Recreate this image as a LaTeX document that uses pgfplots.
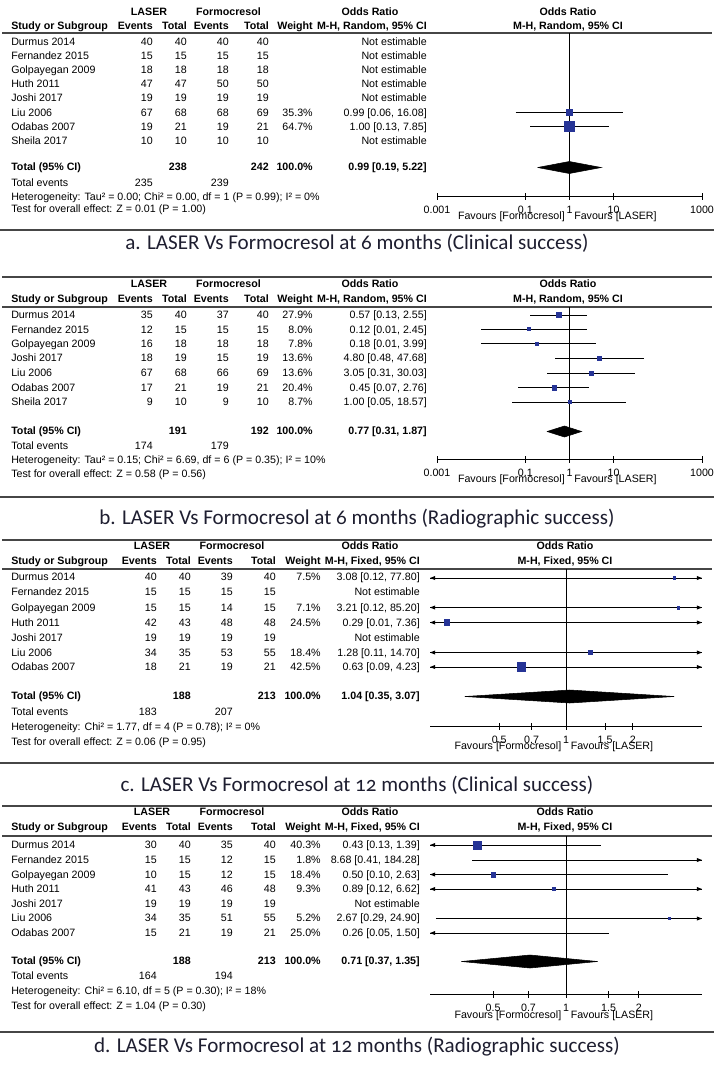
\documentclass[border=0pt]{standalone}
\usepackage{pgfplots}
\pgfplotsset{compat=1.18}
\usepackage{fontspec}
\setmainfont{Liberation Sans}
\newfontfamily\capfont{Carlito}[Numbers=OldStyle]
\definecolor{sqblue}{RGB}{38,52,150}
\definecolor{rulegray}{RGB}{70,70,70}
\definecolor{capcol}{RGB}{30,30,48}

% arrowheads for confidence intervals that run off the scale (tip at the mark point)
\pgfdeclareplotmark{tipL}{%
  \pgfpathmoveto{\pgfqpoint{0pt}{0pt}}%
  \pgfpathlineto{\pgfqpoint{2\pgfplotmarksize}{0.8\pgfplotmarksize}}%
  \pgfpathlineto{\pgfqpoint{2\pgfplotmarksize}{-0.8\pgfplotmarksize}}%
  \pgfpathclose\pgfusepathqfill}
\pgfdeclareplotmark{tipR}{%
  \pgfpathmoveto{\pgfqpoint{0pt}{0pt}}%
  \pgfpathlineto{\pgfqpoint{-2\pgfplotmarksize}{0.8\pgfplotmarksize}}%
  \pgfpathlineto{\pgfqpoint{-2\pgfplotmarksize}{-0.8\pgfplotmarksize}}%
  \pgfpathclose\pgfusepathqfill}

\tikzset{
  tx/.style={inner sep=0pt, font=\fontsize{8}{9}\selectfont, yshift=0.7pt},
  bx/.style={inner sep=0pt, font=\fontsize{8}{9}\selectfont\bfseries, yshift=0.7pt},
  hrule/.style={rulegray, line width=1.1pt},
  captxt/.style={inner sep=0pt, font=\capfont\fontsize{15.8}{18}\selectfont, text=capcol},
}

\newcommand{\colsAB}{\def\cxE{153}\def\cxT{187}\def\cxFE{229}\def\cxFT{269}\def\cxW{313}\def\cxOR{427}\def\cxL{149}\def\cxF{228.5}\def\cxO{370}}
\newcommand{\colsCD}{\def\cxE{157}\def\cxT{191}\def\cxFE{233}\def\cxFT{276}\def\cxW{321}\def\cxOR{420}\def\cxL{152}\def\cxF{232}\def\cxO{370}}

\newcommand{\hdr}[5]{%
  \node[bx,anchor=mid] at (\cxL,-#1) {LASER};
  \node[bx,anchor=mid] at (\cxF,-#1) {Formocresol};
  \node[bx,anchor=mid] at (\cxO,-#1) {Odds Ratio};
  \node[bx,anchor=mid] at (#5,-#1) {Odds Ratio};
  \node[bx,anchor=mid west] at (11,-#2) {Study or Subgroup};
  \node[bx,anchor=mid east] at (\cxE,-#2) {Events};
  \node[bx,anchor=mid east] at (\cxT,-#2) {Total};
  \node[bx,anchor=mid east] at (\cxFE,-#2) {Events};
  \node[bx,anchor=mid east] at (\cxFT,-#2) {Total};
  \node[bx,anchor=mid east] at (\cxW,-#2) {Weight};
  \node[bx,anchor=mid east] at (\cxOR,-#2) {#4};
  \node[bx,anchor=mid] at (#5,-#2) {#4};
  \draw[hrule] (2,-#3) -- (712,-#3);
}
\newcommand{\trow}[8]{%
  \node[tx,anchor=mid west] at (11,-#1) {#2};
  \node[tx,anchor=mid east] at (\cxE,-#1) {#3};
  \node[tx,anchor=mid east] at (\cxT,-#1) {#4};
  \node[tx,anchor=mid east] at (\cxFE,-#1) {#5};
  \node[tx,anchor=mid east] at (\cxFT,-#1) {#6};
  \node[tx,anchor=mid east] at (\cxW,-#1) {#7};
  \node[tx,anchor=mid east] at (\cxOR,-#1) {#8};
}
\newcommand{\totrow}[4]{%
  \node[bx,anchor=mid west] at (11,-#1) {Total (95\% CI)};
  \node[bx,anchor=mid east] at (\cxT,-#1) {#2};
  \node[bx,anchor=mid east] at (\cxFT,-#1) {#3};
  \node[bx,anchor=mid east] at (\cxW,-#1) {100.0\%};
  \node[bx,anchor=mid east] at (\cxOR,-#1) {#4};
}
\newcommand{\evrow}[3]{%
  \node[tx,anchor=mid west] at (11,-#1) {Total events};
  \node[tx,anchor=mid east] at (\cxE,-#1) {#2};
  \node[tx,anchor=mid east] at (\cxFE,-#1) {#3};
}
\newcommand{\fnote}[2]{\node[tx,anchor=mid west] at (11,-#1) {#2};}
\newcommand{\fav}[3]{%
  \node[tx,anchor=mid east] at (#1-4.5,-#2) {Favours [Formocresol]};
  \node[tx,anchor=mid west] at (#1+4.5,-#2) {Favours [#3]};
}

\begin{document}
\begin{tikzpicture}[x=0.75pt,y=0.75pt]
\useasboundingbox (0,0) rectangle (714,-1065);
\fill[white] (0,0) rectangle (714,-1065);

% ================= Panel a =================
\colsAB
\hdr{13}{27}{33}{M-H, Random, 95\% CI}{568}
\trow{43}{Durmus 2014}{40}{40}{40}{40}{}{Not estimable}
\trow{57}{Fernandez 2015}{15}{15}{15}{15}{}{Not estimable}
\trow{71}{Golpayegan 2009}{18}{18}{18}{18}{}{Not estimable}
\trow{85}{Huth 2011}{47}{47}{50}{50}{}{Not estimable}
\trow{99}{Joshi 2017}{19}{19}{19}{19}{}{Not estimable}
\trow{114}{Liu 2006}{67}{68}{68}{69}{35.3\%}{0.99 [0.06, 16.08]}
\trow{128}{Odabas 2007}{19}{21}{19}{21}{64.7\%}{1.00 [0.13, 7.85]}
\trow{142}{Sheila 2017}{10}{10}{10}{10}{}{Not estimable}
\totrow{168}{238}{242}{0.99 [0.19, 5.22]}
\evrow{184}{235}{239}
\fnote{198}{Heterogeneity: Tau² = 0.00; Chi² = 0.00, df = 1 (P = 0.99); I² = 0\%}
\fnote{210}{Test for overall effect: Z = 0.01 (P = 1.00)}
\fav{569.5}{217}{LASER}
\begin{axis}[scale only axis, xmode=log, axis x line*=bottom, axis y line=none,
  clip=false, tick align=center, major tick length=5.25pt,
  axis line style={black, line width=0.75pt}, xtick style={black, line width=0.75pt},
  xticklabel style={font=\fontsize{8}{9}\selectfont, inner sep=0pt, anchor=mid, yshift=-7.5pt},
  ytick=\empty, at={(327.75pt,-147pt)}, anchor=south west,
  width=198.75pt, height=122.25pt, xmin=0.001, xmax=1000, ymin=-196, ymax=-33,
  xtick={0.001,0.1,1,10,1000}, xticklabels={0.001,0.1,1,10,1000}, minor xtick={}]
\addplot[black, line width=0.75pt] coordinates {(1,-33) (1,-196)};
\addplot[black, line width=0.75pt] coordinates {(0.06,-112.5) (16.08,-112.5)};
\addplot[only marks, mark=square*, color=sqblue, mark size=2.25pt] coordinates {(0.99,-112.5)};
\addplot[black, line width=0.75pt] coordinates {(0.13,-126.5) (7.85,-126.5)};
\addplot[only marks, mark=square*, color=sqblue, mark size=3.75pt] coordinates {(1.00,-126.5)};
\addplot[fill=black, draw=black, line width=0.4pt] coordinates {(0.19,-167.5) (0.99,-161.5) (5.22,-167.5) (0.99,-173.5) (0.19,-167.5)};
\end{axis}
\draw[hrule] (0,-230) -- (714,-230);
\node[captxt] at (357,-243) {a. LASER Vs Formocresol at 6 months (Clinical success)};

% ================= Panel b =================
\draw[hrule] (2,-277) -- (712,-277);
\hdr{285}{300}{307}{M-H, Random, 95\% CI}{568}
\trow{316}{Durmus 2014}{35}{40}{37}{40}{27.9\%}{0.57 [0.13, 2.55]}
\trow{330.5}{Fernandez 2015}{12}{15}{15}{15}{8.0\%}{0.12 [0.01, 2.45]}
\trow{345}{Golpayegan 2009}{16}{18}{18}{18}{7.8\%}{0.18 [0.01, 3.99]}
\trow{359}{Joshi 2017}{18}{19}{15}{19}{13.6\%}{4.80 [0.48, 47.68]}
\trow{374}{Liu 2006}{67}{68}{66}{69}{13.6\%}{3.05 [0.31, 30.03]}
\trow{388.5}{Odabas 2007}{17}{21}{19}{21}{20.4\%}{0.45 [0.07, 2.76]}
\trow{403}{Sheila 2017}{9}{10}{9}{10}{8.7\%}{1.00 [0.05, 18.57]}
\totrow{432}{191}{192}{0.77 [0.31, 1.87]}
\evrow{447}{174}{179}
\fnote{461}{Heterogeneity: Tau² = 0.15; Chi² = 6.69, df = 6 (P = 0.35); I² = 10\%}
\fnote{475}{Test for overall effect: Z = 0.58 (P = 0.56)}
\fav{569.5}{480}{LASER}
\begin{axis}[scale only axis, xmode=log, axis x line*=bottom, axis y line=none,
  clip=false, tick align=center, major tick length=5.25pt,
  axis line style={black, line width=0.75pt}, xtick style={black, line width=0.75pt},
  xticklabel style={font=\fontsize{8}{9}\selectfont, inner sep=0pt, anchor=mid, yshift=-7.5pt},
  ytick=\empty, at={(327.75pt,-344.25pt)}, anchor=south west,
  width=198.75pt, height=114pt, xmin=0.001, xmax=1000, ymin=-459, ymax=-307,
  xtick={0.001,0.1,1,10,1000}, xticklabels={0.001,0.1,1,10,1000}, minor xtick={}]
\addplot[black, line width=0.75pt] coordinates {(1,-307) (1,-459)};
\addplot[black, line width=0.75pt] coordinates {(0.13,-315) (2.55,-315)};
\addplot[only marks, mark=square*, color=sqblue, mark size=2.0pt] coordinates {(0.57,-315)};
\addplot[black, line width=0.75pt] coordinates {(0.01,-329) (2.45,-329)};
\addplot[only marks, mark=square*, color=sqblue, mark size=0.95pt] coordinates {(0.12,-329)};
\addplot[black, line width=0.75pt] coordinates {(0.01,-343.5) (3.99,-343.5)};
\addplot[only marks, mark=square*, color=sqblue, mark size=0.95pt] coordinates {(0.18,-343.5)};
\addplot[black, line width=0.75pt] coordinates {(0.48,-358) (47.68,-358)};
\addplot[only marks, mark=square*, color=sqblue, mark size=1.5pt] coordinates {(4.80,-358)};
\addplot[black, line width=0.75pt] coordinates {(0.31,-373) (30.03,-373)};
\addplot[only marks, mark=square*, color=sqblue, mark size=1.5pt] coordinates {(3.05,-373)};
\addplot[black, line width=0.75pt] coordinates {(0.07,-387.5) (2.76,-387.5)};
\addplot[only marks, mark=square*, color=sqblue, mark size=1.7pt] coordinates {(0.45,-387.5)};
\addplot[black, line width=0.75pt] coordinates {(0.05,-402) (18.57,-402)};
\addplot[only marks, mark=square*, color=sqblue, mark size=0.95pt] coordinates {(1.00,-402)};
\addplot[fill=black, draw=black, line width=0.4pt] coordinates {(0.31,-431.5) (0.77,-426) (1.87,-431.5) (0.77,-437) (0.31,-431.5)};
\end{axis}
\draw[hrule] (0,-497) -- (714,-497);
\node[captxt] at (357,-519) {b. LASER Vs Formocresol at 6 months (Radiographic success)};

% ================= Panel c =================
% odds ratios are typed as they are; the x filter puts them on a log10 scale
\colsCD
\draw[hrule] (2,-540) -- (712,-540);
\hdr{547}{562}{569}{M-H, Fixed, 95\% CI}{565}
\trow{578}{Durmus 2014}{40}{40}{39}{40}{7.5\%}{3.08 [0.12, 77.80]}
\trow{593}{Fernandez 2015}{15}{15}{15}{15}{}{Not estimable}
\trow{608.5}{Golpayegan 2009}{15}{15}{14}{15}{7.1\%}{3.21 [0.12, 85.20]}
\trow{623.5}{Huth 2011}{42}{43}{48}{48}{24.5\%}{0.29 [0.01, 7.36]}
\trow{638.5}{Joshi 2017}{19}{19}{19}{19}{}{Not estimable}
\trow{653.5}{Liu 2006}{34}{35}{53}{55}{18.4\%}{1.28 [0.11, 14.70]}
\trow{668}{Odabas 2007}{18}{21}{19}{21}{42.5\%}{0.63 [0.09, 4.23]}
\totrow{697}{188}{213}{1.04 [0.35, 3.07]}
\evrow{713}{183}{207}
\fnote{728}{Heterogeneity: Chi² = 1.77, df = 4 (P = 0.78); I² = 0\%}
\fnote{743}{Test for overall effect: Z = 0.06 (P = 0.95)}
\fav{566}{747}{LASER}
\begin{axis}[scale only axis, axis x line*=bottom, axis y line=none,
  clip=false, tick align=center, major tick length=5.25pt,
  axis line style={black, line width=0.75pt}, xtick style={black, line width=0.75pt},
  xticklabel style={font=\fontsize{8}{9}\selectfont, inner sep=0pt, anchor=mid, yshift=-7.5pt},
  ytick=\empty, at={(322.5pt,-544.5pt)}, anchor=south west,
  x filter/.expression={ln(x)/2.302585093},
  width=204pt, height=117.75pt, xmin=-0.6126, xmax=0.6126, ymin=0, ymax=157,
  xtick={-0.30103,-0.15490,0,0.17609,0.30103}, xticklabels={0.5,0.7,1,1.5,2}, minor xtick={}]
\addplot[black, line width=0.75pt] coordinates {(1,0) (1,157)};
\addplot[black, line width=0.75pt] coordinates {(0.2440,148) (4.098,148)};
\addplot[black, line width=0.75pt] coordinates {(0.2440,118.5) (4.098,118.5)};
\addplot[black, line width=0.75pt] coordinates {(0.2440,103.5) (4.098,103.5)};
\addplot[black, line width=0.75pt] coordinates {(0.2440,73.5) (4.098,73.5)};
\addplot[black, line width=0.75pt] coordinates {(0.2440,59) (4.098,59)};
\addplot[only marks, mark=tipL, mark size=1.9pt, black]
  coordinates {(0.2440,148) (0.2440,118.5) (0.2440,103.5) (0.2440,73.5) (0.2440,59)};
\addplot[only marks, mark=tipR, mark size=1.9pt, black]
  coordinates {(4.098,148) (4.098,118.5) (4.098,103.5) (4.098,73.5) (4.098,59)};
\addplot[only marks, mark=square*, color=sqblue, mark size=0.95pt] coordinates {(3.08,148)};
\addplot[only marks, mark=square*, color=sqblue, mark size=0.95pt] coordinates {(3.21,118.5)};
\addplot[only marks, mark=square*, color=sqblue, mark size=2.1pt] coordinates {(0.29,103.5)};
\addplot[only marks, mark=square*, color=sqblue, mark size=1.5pt] coordinates {(1.28,73.5)};
\addplot[only marks, mark=square*, color=sqblue, mark size=3.2pt] coordinates {(0.63,59)};
\addplot[fill=black, draw=black, line width=0.4pt] coordinates {(0.35,29.5) (1.04,36) (3.07,29.5) (1.04,23) (0.35,29.5)};
\end{axis}
\draw[hrule] (0,-763) -- (714,-763);
\node[captxt] at (357,-785) {c. LASER Vs Formocresol at 12 months (Clinical success)};

% ================= Panel d =================
\draw[hrule] (2,-806) -- (712,-806);
\hdr{813}{828}{836}{M-H, Fixed, 95\% CI}{565}
\trow{846}{Durmus 2014}{30}{40}{35}{40}{40.3\%}{0.43 [0.13, 1.39]}
\trow{861}{Fernandez 2015}{15}{15}{12}{15}{1.8\%}{8.68 [0.41, 184.28]}
\trow{875.5}{Golpayegan 2009}{10}{15}{12}{15}{18.4\%}{0.50 [0.10, 2.63]}
\trow{890}{Huth 2011}{41}{43}{46}{48}{9.3\%}{0.89 [0.12, 6.62]}
\trow{904.5}{Joshi 2017}{19}{19}{19}{19}{}{Not estimable}
\trow{919}{Liu 2006}{34}{35}{51}{55}{5.2\%}{2.67 [0.29, 24.90]}
\trow{933.5}{Odabas 2007}{15}{21}{19}{21}{25.0\%}{0.26 [0.05, 1.50]}
\totrow{962}{188}{213}{0.71 [0.37, 1.35]}
\evrow{977}{164}{194}
\fnote{992}{Heterogeneity: Chi² = 6.10, df = 5 (P = 0.30); I² = 18\%}
\fnote{1007}{Test for overall effect: Z = 1.04 (P = 0.30)}
\fav{566}{1016}{LASER}
\begin{axis}[scale only axis, axis x line*=bottom, axis y line=none,
  clip=false, tick align=center, major tick length=5.25pt,
  axis line style={black, line width=0.75pt}, xtick style={black, line width=0.75pt},
  xticklabel style={font=\fontsize{8}{9}\selectfont, inner sep=0pt, anchor=mid, yshift=-7.5pt},
  ytick=\empty, at={(322.5pt,-745.5pt)}, anchor=south west,
  x filter/.expression={ln(x)/2.302585093},
  width=204pt, height=118.5pt, xmin=-0.5620, xmax=0.5620, ymin=0, ymax=158,
  xtick={-0.30103,-0.15490,0,0.17609,0.30103}, xticklabels={0.5,0.7,1,1.5,2}, minor xtick={}]
\addplot[black, line width=0.75pt] coordinates {(1,0) (1,158)};
\addplot[black, line width=0.75pt] coordinates {(0.2742,149) (1.39,149)};
\addplot[black, line width=0.75pt] coordinates {(0.41,134) (3.648,134)};
\addplot[black, line width=0.75pt] coordinates {(0.2742,119.5) (2.63,119.5)};
\addplot[black, line width=0.75pt] coordinates {(0.2742,105) (3.648,105)};
\addplot[black, line width=0.75pt] coordinates {(0.29,75.5) (3.648,75.5)};
\addplot[black, line width=0.75pt] coordinates {(0.2742,61) (1.50,61)};
\addplot[only marks, mark=tipL, mark size=1.9pt, black]
  coordinates {(0.2742,149) (0.2742,119.5) (0.2742,105) (0.2742,61)};
\addplot[only marks, mark=tipR, mark size=1.9pt, black]
  coordinates {(3.648,134) (3.648,105) (3.648,75.5)};
\addplot[only marks, mark=square*, color=sqblue, mark size=2.9pt] coordinates {(0.43,149)};
\addplot[only marks, mark=square*, color=sqblue, mark size=1.7pt] coordinates {(0.50,119.5)};
\addplot[only marks, mark=square*, color=sqblue, mark size=0.95pt] coordinates {(0.89,105)};
\addplot[only marks, mark=square*, color=sqblue, mark size=0.8pt] coordinates {(2.67,75.5)};
\addplot[fill=black, draw=black, line width=0.4pt] coordinates {(0.37,32.5) (0.71,39) (1.35,32.5) (0.71,26) (0.37,32.5)};
\end{axis}
\draw[hrule] (0,-1032) -- (714,-1032);
\node[captxt] at (357,-1047) {d. LASER Vs Formocresol at 12 months (Radiographic success)};
\end{tikzpicture}
\end{document}
